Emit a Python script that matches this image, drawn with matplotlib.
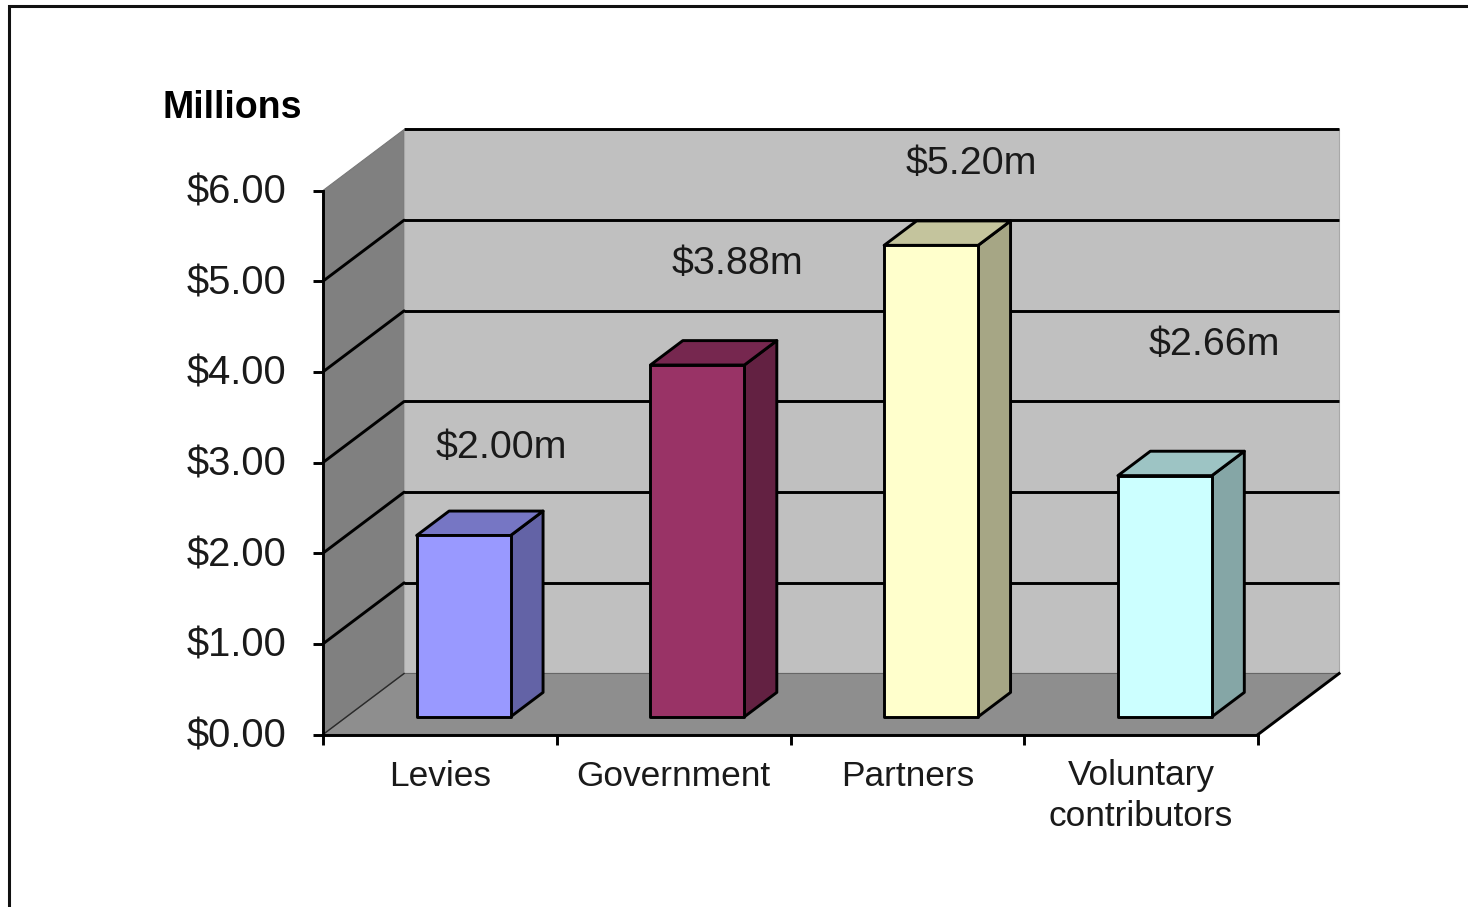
import matplotlib
matplotlib.use("Agg")
import matplotlib.pyplot as plt
import numpy as np
from matplotlib.lines import Line2D
from matplotlib.patches import Polygon
from matplotlib.transforms import ScaledTranslation

plt.rcParams["font.family"] = ["Liberation Sans", "DejaVu Sans"]

categories = ["Levies", "Government", "Partners", "Voluntary\ncontributors"]
values = [2.00, 3.88, 5.20, 2.66]
value_labels = ["$2.00m", "$3.88m", "$5.20m", "$2.66m"]
bar_colors = ["#9999FF", "#993366", "#FFFFCC", "#CCFFFF"]
y_ticks = [0, 1, 2, 3, 4, 5, 6]
y_tick_labels = ["$0.00", "$1.00", "$2.00", "$3.00", "$4.00", "$5.00", "$6.00"]

# where each value label sits relative to the top of its bar
label_dx = [0.263, 0.273, 0.273, 0.312]
label_dy = [1.165, 1.305, 1.09, 1.635]

# oblique projection of the chart depth, in data units
DEPTH_X = 0.347
DEPTH_Y = 0.673
BAR_WIDTH = 0.402
BAR_INSET = 0.30    # gap from category edge to bar
BAR_FRONT = 0.29    # share of the depth in front of the bars
BAR_DEPTH = 0.40    # share of the depth the bars take up
TOP_SHADE = 0.77
SIDE_SHADE = 0.65
LW = 2.1


def shade(color, factor):
    return np.array(matplotlib.colors.to_rgb(color)) * factor


def draw_box(ax, x, value, color):
    fx = x + BAR_FRONT * DEPTH_X
    fy = BAR_FRONT * DEPTH_Y
    dx = BAR_DEPTH * DEPTH_X
    dy = BAR_DEPTH * DEPTH_Y
    w = BAR_WIDTH
    front = [(fx, fy), (fx + w, fy), (fx + w, fy + value), (fx, fy + value)]
    top = [(fx, fy + value), (fx + w, fy + value),
           (fx + w + dx, fy + value + dy), (fx + dx, fy + value + dy)]
    side = [(fx + w, fy), (fx + w + dx, fy + dy),
            (fx + w + dx, fy + value + dy), (fx + w, fy + value)]
    style = dict(edgecolor="#000000", linewidth=LW, joinstyle="round", clip_on=False, zorder=5)
    ax.add_patch(Polygon(side, facecolor=shade(color, SIDE_SHADE), **style))
    ax.add_patch(Polygon(top, facecolor=shade(color, TOP_SHADE), **style))
    ax.add_patch(Polygon(front, facecolor=color, **style))


fig = plt.figure(figsize=(14.68, 9.07), dpi=100, facecolor="white")
ax = fig.add_axes([323 / 1468, 1 - 734.5 / 907, 935 / 1468, 544 / 907])
ax.set_xlim(0, 4)
ax.set_ylim(0, 6)
ax.patch.set_visible(False)

# walls and floor
ax.add_patch(Polygon([(0, 0), (DEPTH_X, DEPTH_Y), (DEPTH_X, 6 + DEPTH_Y), (0, 6)],
                     facecolor="#808080", edgecolor="#777777", linewidth=0.8, clip_on=False, zorder=1))
ax.add_patch(Polygon([(DEPTH_X, DEPTH_Y), (4 + DEPTH_X, DEPTH_Y), (4 + DEPTH_X, 6 + DEPTH_Y), (DEPTH_X, 6 + DEPTH_Y)],
                     facecolor="#C0C0C0", edgecolor="#A8A8A8", linewidth=0.8, clip_on=False, zorder=1))
ax.add_patch(Polygon([(0, 0), (4, 0), (4 + DEPTH_X, DEPTH_Y), (DEPTH_X, DEPTH_Y)],
                     facecolor="#8E8E8E", edgecolor="#666666", linewidth=0.8, clip_on=False, zorder=1))
ax.plot([0, DEPTH_X], [0, DEPTH_Y], color="#2A2A2A", lw=1.0, clip_on=False, zorder=2)

# gridlines run along the left wall and across the back
for tick in y_ticks[1:]:
    ax.plot([DEPTH_X, 4 + DEPTH_X], [tick + DEPTH_Y, tick + DEPTH_Y], color="#000000", lw=LW,
            clip_on=False, zorder=2, solid_capstyle="butt")
    if tick < 6:
        ax.plot([0, DEPTH_X], [tick, tick + DEPTH_Y], color="#000000", lw=LW,
                clip_on=False, zorder=2, solid_capstyle="round")
ax.plot([4, 4 + DEPTH_X], [0, DEPTH_Y], color="#000000", lw=LW, clip_on=False, zorder=2)

for i, value in enumerate(values):
    draw_box(ax, i + BAR_INSET, value, bar_colors[i])
    ax.text(i + 0.5 + label_dx[i], value + label_dy[i], value_labels[i], fontsize=28.4,
            color="#1A1A1A", ha="center", va="center", zorder=6)

for side in ["top", "right"]:
    ax.spines[side].set_visible(False)
for side in ["left", "bottom"]:
    ax.spines[side].set_linewidth(LW)
    ax.spines[side].set_zorder(4)

ax.set_yticks(y_ticks)
ax.set_yticklabels(y_tick_labels, fontsize=28.8, color="#1A1A1A")
ax.tick_params(axis="y", length=7.2, width=LW, pad=19)
nudge_up = ScaledTranslation(0, 2 / 100, fig.dpi_scale_trans)
for label in ax.get_yticklabels():
    label.set_transform(label.get_transform() + nudge_up)

# ticks mark the category edges, labels go in between
ax.set_xticks(range(5))
ax.set_xticklabels([])
ax.tick_params(axis="x", which="major", length=7.2, width=LW)
ax.set_xticks(np.arange(len(categories)) + 0.5, minor=True)
ax.set_xticklabels(categories, minor=True, fontsize=25.4, color="#1A1A1A", ha="center", linespacing=1.28)
ax.tick_params(axis="x", which="minor", length=0, pad=18)

ax.text(232 / 1468, 1 - 108 / 907, "Millions", transform=fig.transFigure, fontsize=27,
        fontweight="bold", color="#000000", ha="center", va="center")

# outer chart frame, cut off at the right and bottom
fig.add_artist(Line2D([9 / 1468, 9 / 1468, 1], [0, 1 - 6 / 907, 1 - 6 / 907],
                      color="#111111", lw=2.2, solid_joinstyle="miter"))

fig.savefig("out.png", dpi=100)
